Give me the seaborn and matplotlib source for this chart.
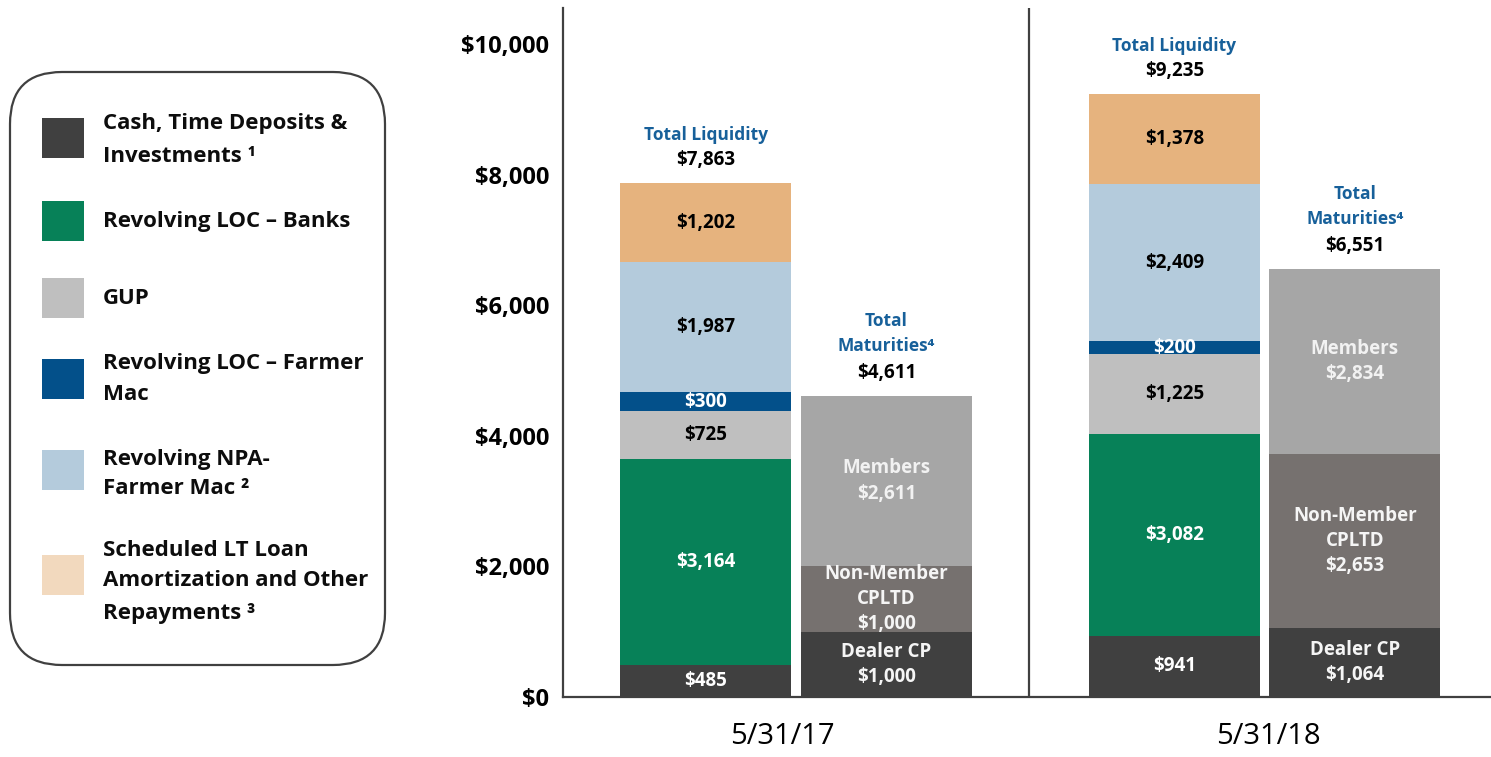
import numpy as np
import pandas as pd
import matplotlib
matplotlib.use("Agg")
import matplotlib.pyplot as plt
import seaborn as sns
from matplotlib.patches import FancyBboxPatch, Rectangle

# ---------------- data ----------------
dates = ["5/31/17", "5/31/18"]
liq_segments = ["Cash, Time Deposits & Investments", "Revolving LOC – Banks", "GUP",
                "Revolving LOC – Farmer Mac", "Revolving NPA-Farmer Mac",
                "Scheduled LT Loan Amortization and Other Repayments"]
liq_2017 = [485, 3164, 725, 300, 1987, 1202]
liq_2018 = [941, 3082, 1225, 200, 2409, 1378]
liq_totals = [7863, 9235]
mat_segments = ["Dealer CP", "Non-Member CPLTD", "Members"]
mat_2017 = [1000, 1000, 2611]
mat_2018 = [1064, 2653, 2834]
mat_totals = [4611, 6551]
yticks = [0, 2000, 4000, 6000, 8000, 10000]
ytick_labels = ["$0", "$2,000", "$4,000", "$6,000", "$8,000", "$10,000"]
legend_lines = [["Cash, Time Deposits &", "Investments ¹"],
                ["Revolving LOC – Banks"],
                ["GUP"],
                ["Revolving LOC – Farmer", "Mac"],
                ["Revolving NPA-", "Farmer Mac ²"],
                ["Scheduled LT Loan", "Amortization and Other", "Repayments ³"]]

# ---------------- styles ----------------
liq_colors = ["#404040", "#078158", "#BFBFBF", "#03508A", "#B4CBDC", "#E6B37E"]
liq_text = ["white", "white", "black", "white", "black", "black"]
legend_colors = ["#404040", "#078158", "#BFBFBF", "#03508A", "#B4CBDC", "#F2D9BE"]
mat_colors = ["#404040", "#76716F", "#A6A6A6"]
mat_text = ["#F5F5F5", "#F5F5F5", "#F2F2F2"]
blue_txt = "#17609A"
FONT = ["Open Sans", "DejaVu Sans"]

sns.set_theme(style="white")
plt.rcParams["font.family"] = FONT

W, H, DPI = 14.91, 7.57, 100
fig = plt.figure(figsize=(W, H), dpi=DPI)

# main axes in pixel layout
px_left, px_right, px_top, px_bottom = 563, 1491, 8, 697
ax = fig.add_axes([px_left / 1491, 1 - px_bottom / 757,
                   (px_right - px_left) / 1491, (px_bottom - px_top) / 757])

unit = 181.0  # px per x unit
pos = [0.0, 1.0, 2.591, 3.588]
bar_w = 171 / unit
xlim = (-(705.5 - px_left) / unit, -(705.5 - px_left) / unit + (px_right - px_left) / unit)
ylim_top = 10550

LBL = 13.5

def draw_stack(p, values, colors):
    cum = np.cumsum(values)
    for c, col in reversed(list(zip(cum, colors))):
        sns.barplot(x=[p], y=[c], color=col, native_scale=True, width=bar_w,
                    saturation=1, errorbar=None, linewidth=0, ax=ax, orient="x")
    return cum

stacks = [(pos[0], liq_2017, liq_colors, liq_text, "liq", liq_totals[0]),
          (pos[1], mat_2017, mat_colors, mat_text, "mat", mat_totals[0]),
          (pos[2], liq_2018, liq_colors, liq_text, "liq", liq_totals[1]),
          (pos[3], mat_2018, mat_colors, mat_text, "mat", mat_totals[1])]

for p, vals, cols, tcols, kind, total in stacks:
    cum = draw_stack(p, vals, cols)
    bottoms = cum - np.array(vals)
    for i, v in enumerate(vals):
        yc = bottoms[i] + v / 2
        if kind == "liq":
            txt = f"${v:,}"
        else:
            name = mat_segments[i]
            if name == "Non-Member CPLTD":
                txt = f"Non-Member\nCPLTD\n${v:,}"
            else:
                txt = f"{name}\n${v:,}"
        ax.text(p, yc, txt, ha="center", va="center", color=tcols[i],
                fontsize=LBL, fontweight="bold", linespacing=1.35)
    top = cum[-1]
    ax.annotate(f"${total:,}", (p, top), xytext=(0, 23 * 0.72), textcoords="offset points",
                ha="center", va="center", fontsize=LBL, fontweight="bold", color="black")
    if kind == "liq":
        ax.annotate("Total Liquidity", (p, top), xytext=(0, 48 * 0.72),
                    textcoords="offset points", ha="center", va="center",
                    fontsize=12.5, fontweight="bold", color=blue_txt)
    else:
        ax.annotate("Maturities⁴", (p, top), xytext=(0, 50 * 0.72),
                    textcoords="offset points", ha="center", va="center",
                    fontsize=12.5, fontweight="bold", color=blue_txt)
        ax.annotate("Total", (p, top), xytext=(0, 75 * 0.72),
                    textcoords="offset points", ha="center", va="center",
                    fontsize=12.5, fontweight="bold", color=blue_txt)

# separator
ax.axvline((1029 - 705.5) / unit, color="#404040", lw=1.6)

ax.set_xlim(*xlim)
ax.set_ylim(0, ylim_top)
ax.set_yticks(yticks)
ax.set_yticklabels(ytick_labels, fontsize=17, fontweight="bold")
ax.set_xticks([(782 - 705.5) / unit, (1268 - 705.5) / unit])
ax.set_xticklabels(dates, fontsize=21)
ax.tick_params(axis="y", length=0, pad=10, colors="black")
ax.tick_params(axis="x", length=0, pad=18, colors="black")
for s in ["top", "right"]:
    ax.spines[s].set_visible(False)
for s in ["left", "bottom"]:
    ax.spines[s].set_color("#404040")
    ax.spines[s].set_linewidth(1.6)
ax.set_xlabel("")
ax.set_ylabel("")
ax.grid(False)

# legend in pixel coordinates
lax = fig.add_axes([0, 0, 1, 1], zorder=-1)
lax.set_xlim(0, 1491)
lax.set_ylim(757, 0)
lax.axis("off")
box = FancyBboxPatch((10, 72), 375, 593, boxstyle="round,pad=0,rounding_size=52",
                     facecolor="white", edgecolor="#404040", lw=1.6)
lax.add_patch(box)
sw_centers = [138, 221, 298, 379, 470, 575]
txt_lines_y = [[124, 156], [221], [298], [363, 394], [459, 489], [550, 581, 613]]
for col, cy, lines, ys in zip(legend_colors, sw_centers, legend_lines, txt_lines_y):
    lax.add_patch(Rectangle((42, cy - 20), 42, 40, facecolor=col, edgecolor="none"))
    for ln, yy in zip(lines, ys):
        lax.text(103, yy, ln, ha="left", va="center", fontsize=16,
                 fontweight="bold", color="#0D0D0D")

fig.savefig("out.png", dpi=DPI)
